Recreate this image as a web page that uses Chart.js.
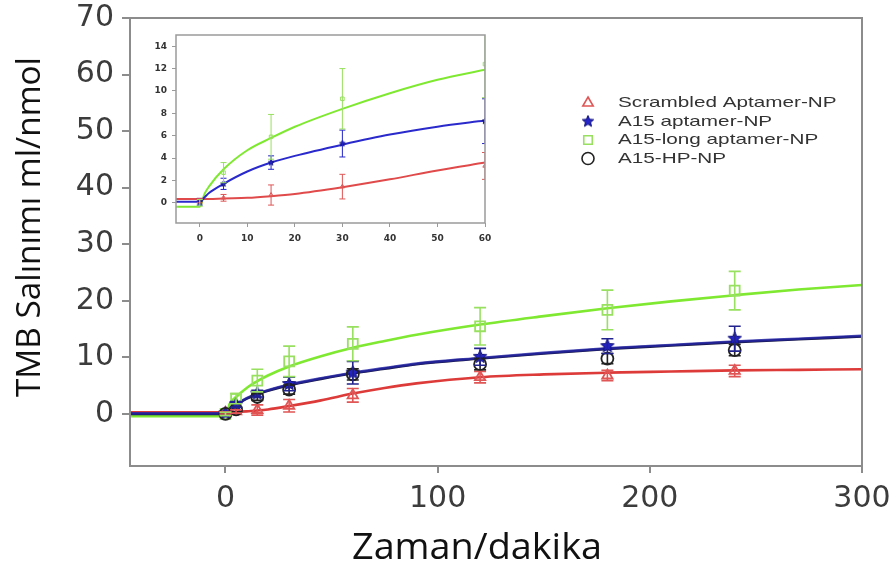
<!DOCTYPE html>
<html><head><meta charset="utf-8">
<script src="https://cdn.jsdelivr.net/npm/chart.js@4.4.0/dist/chart.umd.min.js"></script>
<style>
html,body{margin:0;padding:0;background:#fff;}
#wrap{position:relative;width:893px;height:576px;overflow:hidden;}
#main{position:absolute;left:0;top:0;}
#inset{position:absolute;left:150px;top:28px;}
</style></head><body>
<div id="wrap"><canvas id="main" width="893" height="576"></canvas><canvas id="inset" width="350" height="228"></canvas></div>
<script>
// ---------- data ----------
const times = [0, 5, 15, 30, 60, 120, 180, 240];
const scrambled    = [0.2, 0.45, 0.7, 1.45, 3.3, 6.5, 6.8, 7.6];
const scrambledErr = [0.2, 0.3, 0.9, 1.1, 1.2, 1.0, 0.9, 1.0];
const a15          = [0.1, 1.7, 3.6, 5.3, 7.3, 10.1, 12.0, 13.3];
const a15Err       = [0.3, 0.5, 0.6, 1.2, 2.0, 1.5, 1.3, 2.2];
const a15long      = [0.0, 2.7, 5.9, 9.3, 12.4, 15.5, 18.4, 21.8];
const a15longErr   = [0.3, 0.9, 2.0, 2.7, 3.0, 3.3, 3.5, 3.4];
const a15hp        = [0.0, 0.8, 3.0, 4.3, 7.0, 8.8, 9.8, 11.3];
const a15hpErr     = [0.2, 0.4, 0.6, 0.8, 1.0, 1.0, 0.9, 1.0];

// fitted curves (main panel)
const curveT       = [-45, 0, 2, 5, 10, 15, 20, 30, 45, 60, 75, 90, 120, 150, 180, 210, 240, 270, 300];
const curveLong    = [-0.4, -0.4, 1.8, 3.0, 4.6, 5.8, 6.8, 8.4, 10.2, 11.7, 12.9, 14.0, 15.8, 17.3, 18.7, 19.9, 21.0, 22.0, 22.8];
const curveA15     = [0.1, 0.1, 0.9, 1.7, 2.8, 3.6, 4.2, 5.2, 6.3, 7.3, 8.1, 8.9, 9.9, 10.8, 11.6, 12.2, 12.8, 13.3, 13.8];
const curveHP      = [0.0, 0.0, 0.8, 1.6, 2.7, 3.5, 4.1, 5.1, 6.2, 7.2, 8.0, 8.8, 9.8, 10.7, 11.5, 12.1, 12.7, 13.2, 13.7];
const curveScr     = [0.3, 0.3, 0.35, 0.4, 0.45, 0.6, 0.8, 1.4, 2.4, 3.6, 4.6, 5.4, 6.5, 7.0, 7.3, 7.5, 7.7, 7.8, 7.9];

// inset (0-60 min) curves
const insetT       = [-5, 0, 1, 2, 5, 10, 15, 20, 30, 40, 50, 60];
const insetLong    = [-0.35, -0.35, 0.8, 1.5, 3.0, 4.7, 5.8, 6.8, 8.4, 9.8, 11.0, 11.9];
const insetA15     = [0.1, 0.1, 0.5, 0.9, 1.7, 2.8, 3.6, 4.2, 5.2, 6.1, 6.8, 7.35];
const insetScr     = [0.35, 0.35, 0.35, 0.35, 0.4, 0.45, 0.6, 0.8, 1.4, 2.1, 2.9, 3.6];

const labels = ['Scrambled Aptamer-NP', 'A15 aptamer-NP', 'A15-long aptamer-NP', 'A15-HP-NP'];
const yTitle = 'TMB Salınımı ml/nmol';
const xTitle = 'Zaman/dakika';
const yTicks = [0, 10, 20, 30, 40, 50, 60, 70];
const xTicks = [0, 100, 200, 300];
const insetYTicks = [0, 2, 4, 6, 8, 10, 12, 14];
const insetXTicks = [0, 10, 20, 30, 40, 50, 60];

// ---------- helpers ----------
const pts = (xs, ys) => xs.map((x, i) => ({x: x, y: ys[i]}));
function starCanvas(r, fill) {
  const s = Math.ceil(r * 2 + 2);
  const c = document.createElement('canvas'); c.width = s; c.height = s;
  const g = c.getContext('2d');
  g.beginPath();
  for (let i = 0; i < 10; i++) {
    const a = -Math.PI / 2 + i * Math.PI / 5, rr = i % 2 ? r * 0.45 : r;
    g.lineTo(s / 2 + rr * Math.cos(a), s / 2 + rr * Math.sin(a));
  }
  g.closePath(); g.fillStyle = fill; g.fill();
  g.lineWidth = 1; g.strokeStyle = '#10107a'; g.stroke();
  return c;
}
const RED = '#dd3a3a', REDM = '#e05555', BLUE = '#2424c8', NAVY = '#23238e', GREEN = '#7fe830', GREENM = '#98e060', BLACK = '#222';

const errorPlugin = {
  id: 'errbars',
  afterDatasetsDraw(chart, args, opts) {
    const ctx = chart.ctx, xs = chart.scales.x, ys = chart.scales.y, a = chart.chartArea;
    ctx.save();
    ctx.beginPath(); ctx.rect(a.left, a.top, a.right - a.left, a.bottom - a.top); ctx.clip();
    chart.data.datasets.forEach(d => {
      if (!d.errors) return;
      ctx.strokeStyle = d.errColor; ctx.lineWidth = opts.lw;
      d.data.forEach((p, i) => {
        const e = d.errors[i];
        const x = xs.getPixelForValue(p.x);
        const y1 = ys.getPixelForValue(p.y + e), y2 = ys.getPixelForValue(p.y - e);
        ctx.beginPath();
        ctx.moveTo(x, y1); ctx.lineTo(x, y2);
        ctx.moveTo(x - opts.cap, y1); ctx.lineTo(x + opts.cap, y1);
        ctx.moveTo(x - opts.cap, y2); ctx.lineTo(x + opts.cap, y2);
        ctx.stroke();
      });
    });
    ctx.restore();
  }
};
const framePlugin = {
  id: 'frame',
  afterDraw(chart, args, opts) {
    const ctx = chart.ctx, a = chart.chartArea;
    ctx.save(); ctx.strokeStyle = opts.color; ctx.lineWidth = opts.lw;
    ctx.strokeRect(a.left, a.top, a.right - a.left, a.bottom - a.top);
    ctx.restore();
  }
};
const legendPlugin = {
  id: 'customLegend',
  afterDraw(chart, args, opts) {
    const ctx = chart.ctx;
    const items = chart.data.datasets.filter(d => d.legendIndex !== undefined);
    items.sort((p, q) => p.legendIndex - q.legendIndex);
    ctx.save();
    items.forEach((d, i) => {
      const y = opts.y + i * opts.step;
      ctx.strokeStyle = d.legendStroke; ctx.fillStyle = d.legendFill; ctx.lineWidth = 1.6;
      Chart.helpers.drawPoint(ctx, {pointStyle: d.legendStyle, radius: opts.r, rotation: 0, borderWidth: 1.6}, opts.x, y);
      ctx.save();
      ctx.fillStyle = '#333'; ctx.font = opts.font; ctx.textBaseline = 'middle'; ctx.textAlign = 'left';
      ctx.translate(opts.x + opts.gap, y); ctx.scale(opts.stretch, 1);
      ctx.fillText(d.label, 0, 0);
      ctx.restore();
    });
    ctx.restore();
  }
};
// axis titles placed where the figure has them (text stretched to the figure's length)
const titlePlugin = {
  id: 'axisTitles',
  afterDraw(chart, args, opts) {
    const ctx = chart.ctx;
    opts.items.forEach(t => {
      ctx.save();
      ctx.font = t.font; ctx.fillStyle = t.color; ctx.textAlign = 'center'; ctx.textBaseline = 'middle';
      ctx.translate(t.x, t.y); ctx.rotate(t.rot);
      const w = ctx.measureText(t.text).width;
      ctx.scale(t.len / w, 1);
      ctx.fillText(t.text, 0, 0);
      ctx.restore();
    });
  }
};

const starBig = starCanvas(7, BLUE), starSmall = starCanvas(3, BLUE), starLegend = starCanvas(6, BLUE);

function pointSet(label, ys, err, style, color, fill, r, legend) {
  return {
    type: 'line', showLine: false, label: label, data: pts(times, ys), errors: err, errColor: color,
    pointStyle: style, pointRadius: r, pointHoverRadius: r, pointBorderColor: color, pointBackgroundColor: fill,
    pointBorderWidth: 1.8, borderColor: color, backgroundColor: fill,
    legendIndex: legend ? legend.i : undefined, legendStyle: legend ? legend.style : undefined,
    legendStroke: color, legendFill: fill
  };
}
function curveSet(xs, ys, color, w) {
  return {type: 'line', data: pts(xs, ys), borderColor: color, borderWidth: w, pointRadius: 0,
          cubicInterpolationMode: 'monotone', fill: false, label: ''};
}

// ---------- main chart ----------
const font = (f, s, w) => ({family: f, size: s, weight: w || 'normal'});
new Chart(document.getElementById('main'), {
  data: {datasets: [
    pointSet(labels[3], a15hp, a15hpErr, 'circle', BLACK, 'rgba(0,0,0,0)', 6, {i: 3, style: 'circle'}),
    pointSet(labels[1], a15, a15Err, starBig, NAVY, BLUE, 7, {i: 1, style: starLegend}),
    pointSet(labels[0], scrambled, scrambledErr, 'triangle', REDM, 'rgba(0,0,0,0)', 6, {i: 0, style: 'triangle'}),
    pointSet(labels[2], a15long, a15longErr, 'rect', GREENM, 'rgba(0,0,0,0)', 7, {i: 2, style: 'rect'}),
    curveSet(curveT, curveA15, 'rgba(36,36,170,0.8)', 2.6),
    curveSet(curveT, curveHP, '#1a1a40', 2.6),
    curveSet(curveT, curveScr, RED, 2.6),
    curveSet(curveT, curveLong, GREEN, 2.6)
  ]},
  options: {
    responsive: false, animation: false, events: [],
    layout: {padding: {top: 18, right: 31, left: 0, bottom: 0}},
    plugins: {legend: {display: false}, tooltip: {enabled: false},
      errbars: {lw: 1.6, cap: 6}, frame: {color: '#8c8c8c', lw: 2},
      customLegend: {x: 588, y: 103, step: 18.5, r: 6, gap: 30, stretch: 1.38, font: '15px "Liberation Sans"'},
      axisTitles: {items: [
        {text: yTitle, x: 31, y: 227, rot: -Math.PI / 2, len: 340, font: '32px "Open Sans"', color: '#111'},
        {text: xTitle, x: 477, y: 549, rot: 0, len: 250, font: '36px "Open Sans"', color: '#111'}
      ]}},
    scales: {
      x: {type: 'linear', min: -45, max: 300,
        afterBuildTicks: s => { s.ticks = xTicks.map(v => ({value: v})); },
        afterFit: s => { s.height = 110; s.paddingRight = 0; s.paddingLeft = 0; },
        border: {display: false},
        grid: {drawOnChartArea: false, drawTicks: true, tickLength: 7, color: '#8c8c8c', lineWidth: 2},
        ticks: {font: font('DejaVu Sans', 30), color: '#3c3c3c', padding: 8, maxRotation: 0}
      },
      y: {type: 'linear', min: -9.2, max: 70,
        afterBuildTicks: s => { s.ticks = yTicks.map(v => ({value: v})); },
        afterFit: s => { s.width = 130; s.paddingTop = 0; s.paddingBottom = 0; },
        border: {display: false},
        grid: {drawOnChartArea: false, drawTicks: true, tickLength: 8, color: '#8c8c8c', lineWidth: 2},
        ticks: {font: font('DejaVu Sans', 30), color: '#3c3c3c', padding: 8}
      }
    }
  },
  plugins: [errorPlugin, framePlugin, legendPlugin, titlePlugin]
});

// ---------- inset chart ----------
new Chart(document.getElementById('inset'), {
  data: {datasets: [
    {type: 'line', showLine: false, data: pts(times.slice(0, 5), a15.slice(0, 5)), errors: a15Err.slice(0, 5), errColor: BLUE,
     pointStyle: starSmall, pointRadius: 3},
    {type: 'line', showLine: false, data: pts(times.slice(0, 5), scrambled.slice(0, 5)), errors: scrambledErr.slice(0, 5), errColor: REDM,
     pointStyle: 'triangle', pointRadius: 2.5, pointBorderColor: REDM, pointBackgroundColor: 'rgba(0,0,0,0)', pointBorderWidth: 1},
    {type: 'line', showLine: false, data: pts(times.slice(0, 5), a15long.slice(0, 5)), errors: a15longErr.slice(0, 5), errColor: GREENM,
     pointStyle: 'rect', pointRadius: 2.5, pointBorderColor: GREENM, pointBackgroundColor: 'rgba(0,0,0,0)', pointBorderWidth: 1},
    curveSet(insetT, insetA15, '#2a2acc', 2),
    curveSet(insetT, insetScr, '#e04a4a', 2),
    curveSet(insetT, insetLong, GREEN, 2)
  ]},
  options: {
    responsive: false, animation: false, events: [],
    layout: {padding: {top: 7, right: 15, left: 0, bottom: 0}},
    plugins: {legend: {display: false}, tooltip: {enabled: false},
      errbars: {lw: 1, cap: 3}, frame: {color: '#9a9a9a', lw: 1.5}},
    scales: {
      x: {type: 'linear', min: -5, max: 60,
        afterBuildTicks: s => { s.ticks = insetXTicks.map(v => ({value: v})); },
        afterFit: s => { s.height = 33; s.paddingRight = 0; s.paddingLeft = 0; },
        border: {display: false},
        grid: {drawOnChartArea: false, drawTicks: true, tickLength: 4, color: '#9a9a9a', lineWidth: 1},
        ticks: {font: font('DejaVu Sans', 9, 'bold'), color: '#333', padding: 6, maxRotation: 0}
      },
      y: {type: 'linear', min: -1.8, max: 15,
        afterBuildTicks: s => { s.ticks = insetYTicks.map(v => ({value: v})); },
        afterFit: s => { s.width = 26; s.paddingTop = 0; s.paddingBottom = 0; },
        border: {display: false},
        grid: {drawOnChartArea: false, drawTicks: true, tickLength: 4, color: '#9a9a9a', lineWidth: 1},
        ticks: {font: font('DejaVu Sans', 9, 'bold'), color: '#333', padding: 5}
      }
    }
  },
  plugins: [errorPlugin, framePlugin]
});
</script>
</body></html>
